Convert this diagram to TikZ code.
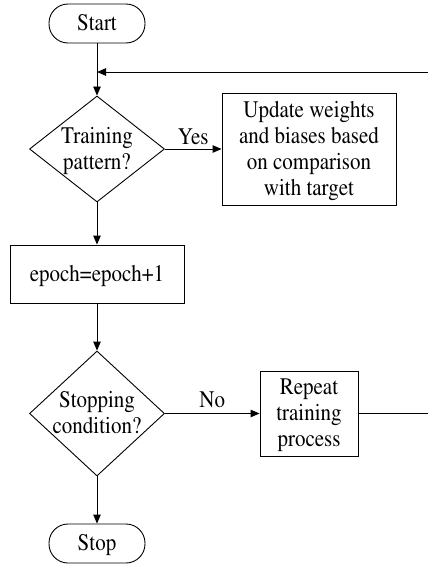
\documentclass[tikz,border=0pt]{standalone}
\usepackage[T1]{fontenc}
\usepackage{mathptmx}
\usepackage{graphicx}
\usetikzlibrary{shapes.geometric,arrows.meta}
\newcommand\tx[1]{\raisebox{-2pt}[\height][\depth]{\scalebox{1}[1.13]{\begin{tabular}{@{}c@{}}#1\end{tabular}}}}
\newcommand\lb[1]{\scalebox{1}[1.13]{#1}}
\begin{document}
\begin{tikzpicture}[x=1pt,y=-1pt,
  every node/.style={font=\fontsize{21}{23}\selectfont},
  line/.style={line width=0.9pt},
  arr/.style={line width=0.9pt,-{Triangle[length=9pt,width=7.5pt]}},
  term/.style={draw,line width=0.9pt,rectangle,rounded corners=19pt,minimum width=96pt,minimum height=39pt,inner sep=0pt},
  proc/.style={draw,line width=0.9pt,rectangle,align=center,inner sep=0pt},
  dec/.style={draw,line width=0.9pt,diamond,align=center,inner sep=-10pt,minimum width=135pt},
  lab/.style={inner sep=0pt,anchor=base}]
\useasboundingbox (0,0) rectangle (428,565);
\node[term] (start) at (97,23.5) {\tx{Start}};
\node[dec,minimum height=106pt] (d1) at (97,149) {\tx{Training\\pattern?}};
\node[proc,minimum width=174pt,minimum height=112pt] (upd) at (309,149) {\tx{Update weights\\and biases based\\on comparison\\with target}};
\node[proc,minimum width=174pt,minimum height=58pt] (ep) at (97,274) {\tx{epoch=epoch+1}};
\node[dec,minimum height=125pt] (d2) at (97,413.5) {\tx{Stopping\\condition?}};
\node[proc,minimum width=98pt,minimum height=85pt] (rep) at (309,413.5) {\tx{Repeat\\training\\process}};
\node[term] (stop) at (97,543.5) {\tx{Stop}};
\coordinate (j) at (97,72);
\coordinate (eT) at (428,72);
\coordinate (eR) at (428,413.5);
\draw[arr] (start) -- (d1);
\draw[arr] (eT) -- (j);
\draw[arr] (d1) -- node[lab,yshift=5pt]{\lb{Yes}} (upd);
\draw[arr] (d1) -- (ep);
\draw[arr] (ep) -- (d2);
\draw[arr] (d2) -- node[lab,yshift=6.5pt]{\lb{No}} (rep);
\draw[line] (rep) -- (eR);
\draw[arr] (d2) -- (stop);
\end{tikzpicture}
\end{document}
